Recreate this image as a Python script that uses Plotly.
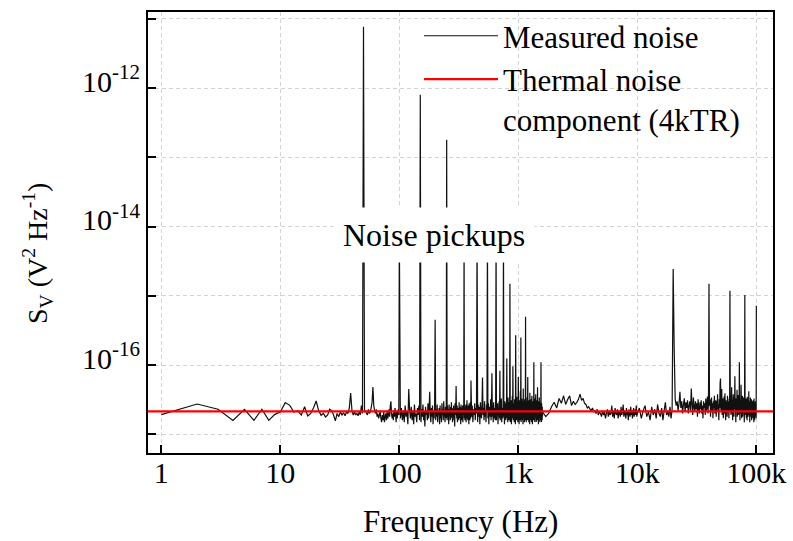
import numpy as np
import plotly.graph_objects as go

# ---------------------------------------------------------------------------
# Measured voltage noise PSD, stored per acquisition band.
# Each band: first bin (Hz), bin width (Hz), levels in units of 1e-17 V^2/Hz.
# ---------------------------------------------------------------------------
band1_start, band1_step = 1, 1
band1_sv_e17 = [
    1.92, 2.74, 2.3, 1.59, 2.3, 1.59, 2.3, 1.59, 1.94, 2.1,
    2.87, 2.62, 2.1, 2.2, 1.9, 2.5, 1.84, 2.0, 2.4, 3.03,
    2.2, 1.88, 2.0, 1.78, 1.9, 2.3, 2.2, 1.9, 1.56, 2.0,
    1.8, 2.1, 1.9, 2.05, 1.85, 2.1, 2.0, 2.4, 3.94, 2.2,
    1.9, 2.1, 1.9, 2.0, 1.85, 2.1, 1.9, 2.6, 2.0, 2.0,
    2.1, 2.2, 2.0, 1.9, 2.3, 2.0, 2.1, 2.4, 2.9, 4.8,
    2.6, 2.2, 2.0, 2.3, 1.8, 2.0, 1.7, 1.9, 2.2, 1.7,
    1.5, 1.9, 1.6, 2.1, 1.5, 1.8, 2.0, 1.6, 2.2, 1.7,
    1.9, 2.3, 1.8, 2.6, 3.0, 2.0, 1.7, 2.0, 1.6, 2.2,
    1.8, 2.4, 2.0, 1.5, 2.1, 1.7, 2.0, 2.3, 1.9,
]

band2_start, band2_step = 100, 2
band2_sv_e17 = [
    2.0, 1.7, 2.4, 1.6, 2.2, 1.5, 2.6, 1.8, 2.1, 1.4,
    4.5, 2.3, 1.7, 2.5, 1.6, 2.2, 1.4, 2.7, 1.8, 2.0,
    1.5, 2.4, 1.9, 2.6, 1.6, 2.2, 1.5, 2.3, 1.8, 2.7,
    1.6, 2.1, 1.3, 2.5, 1.9, 2.2, 1.6, 2.8, 1.7, 2.3,
    4.1, 2.0, 1.5, 2.4, 1.8, 2.6, 1.4, 2.1, 1.7, 2.5,
    2.0, 1.6, 2.3, 1.8, 2.7, 1.5, 2.2, 1.9, 2.4, 1.4,
    2.6, 1.7, 2.1, 1.5, 2.8, 1.9, 2.3, 1.6, 3.0, 1.8,
    2.2, 1.5, 2.5, 1.7, 2.4, 2.0, 1.6, 2.6, 1.8, 2.3,
    1.4, 2.7, 1.9, 2.2, 1.6, 2.5, 1.8, 2.9, 1.7, 2.1,
    1.5, 2.4, 2.0, 2.6, 1.6, 2.3, 1.3, 2.8, 1.9, 2.2,
    5.0, 2.1, 1.7, 2.6, 1.5, 2.4, 1.8, 2.2, 1.6, 2.9,
    1.7, 2.5, 1.9, 2.3, 1.4, 2.7, 2.0, 1.6, 2.4, 1.8,
    2.6, 1.5, 2.2, 1.9, 2.8, 2.0, 1.7, 2.5, 1.6, 2.3,
    1.8, 2.7, 1.5, 2.4, 2.0, 3.1, 1.7, 2.2, 1.6, 2.6,
    1.9, 2.3, 1.4, 2.8, 1.8, 2.5, 1.6, 2.1, 2.9, 1.7,
]

band3_start, band3_step = 400, 5
band3_sv_e17 = [
    6.0, 1.8, 2.6, 1.5, 2.3, 1.9, 2.8, 1.6, 2.4, 2.0,
    2.2, 1.5, 2.7, 1.8, 2.5, 1.4, 2.9, 2.0, 1.7, 2.6,
    6.6, 1.9, 2.4, 1.6, 3.0, 1.8, 2.2, 1.5, 2.7, 2.1,
    2.0, 1.7, 2.8, 1.4, 2.5, 2.1, 1.8, 3.2, 1.6, 2.3,
    7.6, 1.8, 2.6, 1.5, 2.9, 2.0, 1.7, 2.4, 1.6, 3.1,
    2.0, 1.6, 2.5, 1.9, 2.8, 1.4, 2.3, 2.0, 3.0, 1.7,
    8.3, 1.6, 2.7, 1.8, 3.3, 1.5, 2.4, 2.1, 1.7, 2.9,
    2.0, 1.8, 2.6, 1.4, 3.0, 1.9, 2.3, 1.6, 2.8, 2.0,
    12.4, 1.7, 2.5, 1.5, 3.4, 1.9, 2.2, 1.6, 2.9, 1.8,
    2.0, 1.5, 2.7, 1.8, 3.1, 1.4, 2.4, 2.0, 3.6, 1.7,
    9.6, 1.6, 2.8, 1.9, 2.3, 1.5, 3.2, 1.8, 2.6, 1.4,
    2.0, 1.8, 2.9, 1.6, 3.5, 2.0, 1.7, 2.5, 1.5, 3.0,
    6.7, 1.7, 2.6, 1.4, 3.1, 1.9, 2.4, 1.6, 4.2, 1.8,
    2.0, 1.5, 2.8, 2.0, 3.3, 1.6, 2.5, 1.8, 3.0, 1.4,
    4.6, 1.7, 2.7, 1.9, 2.4, 1.5, 3.2, 1.8, 2.6, 1.6,
    2.0, 1.8, 3.0, 1.5, 2.5, 2.0, 1.6, 3.4, 1.7, 2.3,
    6.7, 1.6, 2.8, 1.9, 3.1, 1.5, 2.4, 1.8, 2.9, 1.4,
    4.0, 1.7, 2.6, 1.9, 3.2, 1.6, 2.4, 2.0, 1.5, 2.9,
    3.6, 1.8, 2.5, 1.4, 3.0, 2.0, 1.7, 2.7, 1.6, 2.3,
    2.0, 1.6, 2.9, 1.8, 3.3, 1.5, 2.4, 2.0, 1.7, 2.6,
    3.8, 1.7, 2.8, 1.5, 3.1, 1.9, 2.3, 1.6, 2.7, 1.8,
    4.8, 1.6, 2.5, 1.9, 3.0, 1.4, 2.6, 1.8, 2.2, 1.7,
    3.4, 1.8, 2.7, 1.5, 2.9, 2.0, 1.6, 2.4, 1.9, 3.0,
    2.0, 1.7, 2.6, 1.5, 2.8, 1.9, 2.3, 1.6, 2.5, 1.8,
    2.1,
]

band4_start, band4_step = 1700, 100
band4_sv_e17 = [
    1.8, 2.0, 2.5, 2.9, 2.4, 3.3, 2.8, 3.6, 2.7, 3.2,
    3.6, 2.6, 3.0, 2.7, 2.9, 3.2, 3.8, 3.1, 3.3, 2.8,
    2.7, 2.4, 2.5, 2.3, 2.2, 2.4, 2.1, 2.2, 2.0, 2.3,
    1.9, 2.1, 2.0, 1.8, 2.2, 1.9, 2.1, 1.7, 2.0, 2.3,
    1.8, 2.2, 1.9, 2.0, 2.6, 1.8, 2.1, 1.7, 2.4, 2.0,
    1.9, 2.3, 1.7, 2.2, 2.0, 1.8, 2.5, 1.9, 2.1, 2.7,
    1.8, 2.2, 2.0, 1.7, 2.4, 1.9, 2.1, 1.6, 2.3, 2.0,
    1.8, 2.5, 1.9, 2.2, 1.7, 2.1, 2.4, 1.8, 2.0, 2.3,
    1.9, 2.6, 1.8,
]

band5_start, band5_step = 10000, 400
band5_sv_e17 = [
    2.0, 2.4, 1.7, 2.2, 2.6, 1.8, 2.1, 1.6, 2.5, 1.9,
    2.3, 1.7, 2.7, 2.0, 1.8, 2.4, 1.6, 2.2, 2.9, 1.9,
    2.1, 1.8, 2.5, 1.7, 2.3, 2.5, 16.5, 3.2, 2.6, 3.0,
    2.2, 2.8, 4.1, 2.4, 3.0, 2.0, 2.7, 3.3, 2.1, 2.9,
    2.4, 3.1, 2.0, 2.6, 3.0, 2.2, 4.6, 2.7, 1.9, 3.4,
    2.5, 2.1, 3.0, 2.3, 2.8, 1.8, 3.2, 2.4, 2.0, 2.9,
    2.3, 3.1, 2.0, 2.6, 1.7, 3.0, 2.4, 2.8, 1.9, 3.3,
    2.2, 2.7, 3.5, 2.0, 2.9, 2.5, 2.6, 3.2, 1.8, 2.7,
    3.4, 2.1, 2.8, 1.7, 3.0, 2.4, 3.6, 2.0, 2.5, 3.1,
    1.8, 3.0, 2.3, 3.8, 2.1, 2.7, 1.6, 3.2, 2.4, 5.5,
    6.4, 2.2, 3.0, 4.5, 1.9, 2.8, 3.3, 1.7, 2.6, 3.5,
    2.0, 3.9, 2.5, 1.6, 3.1, 2.3, 2.9, 1.8, 3.6, 2.2,
    3.0, 2.4, 1.7, 3.3, 2.6, 2.5, 2.1, 3.5, 1.9, 2.8,
    4.8, 2.0, 3.1, 1.6, 2.7, 3.8, 2.2, 1.8, 3.4, 2.5,
    6.9, 2.3, 2.9, 1.5, 3.3, 2.1, 2.6, 4.4, 1.8, 3.0,
    2.4, 3.7, 1.9, 2.8, 2.2, 11.0, 2.5, 1.6, 3.2, 2.7,
    2.0, 5.2, 2.6, 1.7, 3.1, 2.3, 3.6, 1.8, 2.9, 2.2,
    3.4, 2.0, 2.7, 1.5, 2.9, 2.5, 2.4, 3.0, 1.9, 2.6,
    3.3, 1.7, 2.5, 2.9, 1.6, 3.5, 2.2, 2.7, 1.8, 3.1,
    2.3, 4.2, 1.9, 2.6, 3.0, 1.5, 2.8, 2.1, 3.4, 1.8,
    2.7, 2.2, 3.2, 1.6, 2.5, 2.9, 1.9, 3.0, 2.4, 1.7,
    3.1, 2.0, 2.6, 1.5, 3.3, 2.2, 2.8, 1.6, 2.9, 2.3,
    1.8, 3.0, 2.1, 2.6, 1.7, 2.4,
]

# Strong pickup lines (mains harmonics and switching tones), V^2/Hz
pickup_hz = [50, 100, 150, 200, 250, 350, 450, 550, 650, 750, 850, 950,
             1050, 1150, 1350, 1550, 20000, 40000, 60000, 80000, 100000]
pickup_sv = [7.7e-12, 8e-15, 8.0e-13, 4.5e-16, 1.8e-13, 8e-15, 8e-15, 8e-15,
             8e-15, 8e-15, 1.5e-15, 2.7e-16, 2.5e-16, 5.0e-16, 1.1e-16,
             1.1e-16, 2.45e-15, 1.5e-15, 1.18e-15, 1.03e-15, 7.2e-16]

# Thermal (Johnson) noise level 4kTR, V^2/Hz
thermal_sv = 2.15e-17

# Axis spans
freq_span = [0.773, 138000]
sv_log_span = [-17.27, -10.9]

x_tick_vals = [1, 10, 100, 1000, 10000, 100000]
x_tick_text = ["1", "10", "100", "1k", "10k", "100k"]
y_tick_vals = [1e-16, 1e-14, 1e-12]
y_tick_text = ["10<sup>-16</sup>", "10<sup>-14</sup>", "10<sup>-12</sup>"]
y_minor_vals = [1e-17, 1e-15, 1e-13, 1e-11]

# ---------------------------------------------------------------------------
bands = [
    (band1_start, band1_step, band1_sv_e17),
    (band2_start, band2_step, band2_sv_e17),
    (band3_start, band3_step, band3_sv_e17),
    (band4_start, band4_step, band4_sv_e17),
    (band5_start, band5_step, band5_sv_e17),
]
freq = np.concatenate([s + st * np.arange(len(v)) for s, st, v in bands]).astype(float)
sv = np.concatenate([np.asarray(v, dtype=float) for _, _, v in bands]) * 1e-17
for f0, p in zip(pickup_hz, pickup_sv):
    sv[np.argmin(np.abs(freq - f0))] = p

FONT = "Liberation Serif"
GRID = dict(showgrid=True, gridcolor="#d4d4d4", gridwidth=1, griddash="4px,3px")

fig = go.Figure()
fig.add_trace(go.Scatter(
    x=freq, y=sv, mode="lines", name="Measured noise",
    line=dict(color="#111111", width=1.2, simplify=False),
))
fig.add_trace(go.Scatter(
    x=freq_span, y=[thermal_sv, thermal_sv], mode="lines",
    name="Thermal noise<br>component (4kTR)",
    line=dict(color="#ff0000", width=2.2),
))

axis_common = dict(
    type="log", showline=True, linecolor="black", linewidth=2, mirror=True,
    ticks="inside", ticklen=8, tickwidth=2, tickcolor="black",
    tickfont=dict(family=FONT, size=30, color="black"),
    automargin=False, **GRID,
)
fig.update_xaxes(range=list(np.log10(freq_span)), tickvals=x_tick_vals,
                 ticktext=x_tick_text, ticklabelstandoff=-8, **axis_common)
fig.update_yaxes(range=sv_log_span, tickvals=y_tick_vals,
                 ticktext=y_tick_text, ticklabelshift=-7, **axis_common,
                 minor=dict(tickmode="array", tickvals=y_minor_vals,
                            ticks="inside", ticklen=8, tickwidth=2,
                            tickcolor="black", **GRID))

fig.add_annotation(
    text="Noise pickups", xref="paper", yref="paper", x=0.4576, y=0.4932,
    xanchor="center", yanchor="middle", showarrow=False,
    font=dict(family=FONT, size=32, color="black"),
    bgcolor="white", borderpad=9,
)
fig.add_annotation(
    text="Frequency (Hz)", xref="paper", yref="paper", x=0.5, y=-0.156,
    xanchor="center", yanchor="middle", showarrow=False,
    font=dict(family=FONT, size=31, color="black"),
)
fig.add_annotation(
    text="S<sub>V</sub> (V<sup>2</sup> Hz<sup>-1</sup>)", textangle=-90,
    xref="paper", yref="paper", x=-0.1776, y=0.451,
    xanchor="center", yanchor="middle", showarrow=False,
    font=dict(family=FONT, size=28, color="black"),
)

fig.update_layout(
    width=793, height=541,
    margin=dict(l=148, r=20, t=12, b=88, autoexpand=False),
    paper_bgcolor="white", plot_bgcolor="white",
    showlegend=True,
    legend=dict(
        x=0.4336, y=1.0066, xanchor="left", yanchor="top",
        bgcolor="rgba(0,0,0,0)", borderwidth=0,
        font=dict(family=FONT, size=31, color="black"),
        itemwidth=74, valign="top", tracegroupgap=0,
    ),
    font=dict(family=FONT),
)

fig.write_html("out.html")
